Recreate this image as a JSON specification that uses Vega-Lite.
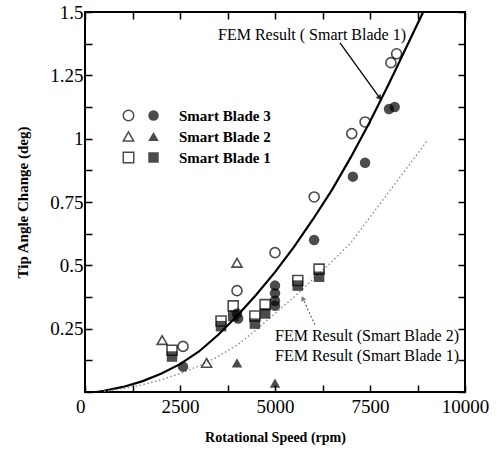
{
  "$schema": "https://vega.github.io/schema/vega-lite/v6.json",
  "width": 380,
  "height": 380,
  "autosize": {"type": "none"},
  "padding": {"left": 85, "top": 12, "right": 32, "bottom": 62},
  "background": "white",
  "config": {
    "view": {"stroke": "black", "strokeWidth": 2},
    "axis": {
      "labelFont": "Liberation Serif",
      "labelFontSize": 19,
      "labelColor": "black",
      "titleFont": "Liberation Serif",
      "titleColor": "black",
      "titleFontWeight": "bold",
      "titleFontSize": 15,
      "grid": false,
      "labelFlush": false,
      "labelOverlap": false
    }
  },
  "datasets": {
    "fem1": [
      {"rpm": 300, "deg": 0},
      {"rpm": 500, "deg": 0.005},
      {"rpm": 1000, "deg": 0.02},
      {"rpm": 1500, "deg": 0.042},
      {"rpm": 2000, "deg": 0.072},
      {"rpm": 2500, "deg": 0.11},
      {"rpm": 3000, "deg": 0.16},
      {"rpm": 3500, "deg": 0.225},
      {"rpm": 4000, "deg": 0.3},
      {"rpm": 4500, "deg": 0.383},
      {"rpm": 5000, "deg": 0.473},
      {"rpm": 5500, "deg": 0.573},
      {"rpm": 6000, "deg": 0.682},
      {"rpm": 6500, "deg": 0.798},
      {"rpm": 7000, "deg": 0.928},
      {"rpm": 7500, "deg": 1.068},
      {"rpm": 8000, "deg": 1.218},
      {"rpm": 8500, "deg": 1.375},
      {"rpm": 8900, "deg": 1.5}
    ],
    "fem2": [
      {"rpm": 500, "deg": 0.003},
      {"rpm": 1000, "deg": 0.013},
      {"rpm": 1500, "deg": 0.028},
      {"rpm": 2000, "deg": 0.048},
      {"rpm": 2500, "deg": 0.073},
      {"rpm": 3000, "deg": 0.103},
      {"rpm": 3500, "deg": 0.14},
      {"rpm": 4000, "deg": 0.185},
      {"rpm": 4500, "deg": 0.245},
      {"rpm": 5000, "deg": 0.31},
      {"rpm": 5500, "deg": 0.375},
      {"rpm": 6000, "deg": 0.445},
      {"rpm": 6500, "deg": 0.515},
      {"rpm": 7000, "deg": 0.59},
      {"rpm": 7500, "deg": 0.69},
      {"rpm": 8000, "deg": 0.79},
      {"rpm": 8500, "deg": 0.89},
      {"rpm": 9000, "deg": 0.99}
    ],
    "open": [
      {"rpm": 2580, "deg": 0.18, "series": "Smart Blade 3"},
      {"rpm": 4000, "deg": 0.40, "series": "Smart Blade 3"},
      {"rpm": 5000, "deg": 0.55, "series": "Smart Blade 3"},
      {"rpm": 6030, "deg": 0.77, "series": "Smart Blade 3"},
      {"rpm": 7020, "deg": 1.02, "series": "Smart Blade 3"},
      {"rpm": 7370, "deg": 1.066, "series": "Smart Blade 3"},
      {"rpm": 8050, "deg": 1.30, "series": "Smart Blade 3"},
      {"rpm": 8200, "deg": 1.335, "series": "Smart Blade 3"},
      {"rpm": 2030, "deg": 0.205, "series": "Smart Blade 2"},
      {"rpm": 3200, "deg": 0.115, "series": "Smart Blade 2"},
      {"rpm": 4000, "deg": 0.51, "series": "Smart Blade 2"},
      {"rpm": 2290, "deg": 0.165, "series": "Smart Blade 1"},
      {"rpm": 3580, "deg": 0.28, "series": "Smart Blade 1"},
      {"rpm": 3900, "deg": 0.34, "series": "Smart Blade 1"},
      {"rpm": 4470, "deg": 0.30, "series": "Smart Blade 1"},
      {"rpm": 4740, "deg": 0.345, "series": "Smart Blade 1"},
      {"rpm": 5600, "deg": 0.44, "series": "Smart Blade 1"},
      {"rpm": 6160, "deg": 0.485, "series": "Smart Blade 1"}
    ],
    "filled": [
      {"rpm": 2580, "deg": 0.10, "blade": "Smart Blade 3"},
      {"rpm": 4030, "deg": 0.29, "blade": "Smart Blade 3"},
      {"rpm": 4000, "deg": 0.31, "blade": "Smart Blade 3"},
      {"rpm": 5000, "deg": 0.42, "blade": "Smart Blade 3"},
      {"rpm": 5000, "deg": 0.39, "blade": "Smart Blade 3"},
      {"rpm": 5000, "deg": 0.36, "blade": "Smart Blade 3"},
      {"rpm": 5000, "deg": 0.34, "blade": "Smart Blade 3"},
      {"rpm": 6030, "deg": 0.60, "blade": "Smart Blade 3"},
      {"rpm": 7050, "deg": 0.85, "blade": "Smart Blade 3"},
      {"rpm": 7370, "deg": 0.905, "blade": "Smart Blade 3"},
      {"rpm": 8000, "deg": 1.117, "blade": "Smart Blade 3"},
      {"rpm": 8150, "deg": 1.125, "blade": "Smart Blade 3"},
      {"rpm": 4000, "deg": 0.115, "blade": "Smart Blade 2"},
      {"rpm": 5000, "deg": 0.035, "blade": "Smart Blade 2"},
      {"rpm": 2290, "deg": 0.14, "blade": "Smart Blade 1"},
      {"rpm": 3580, "deg": 0.26, "blade": "Smart Blade 1"},
      {"rpm": 3900, "deg": 0.30, "blade": "Smart Blade 1"},
      {"rpm": 4470, "deg": 0.27, "blade": "Smart Blade 1"},
      {"rpm": 4740, "deg": 0.31, "blade": "Smart Blade 1"},
      {"rpm": 5600, "deg": 0.42, "blade": "Smart Blade 1"},
      {"rpm": 6160, "deg": 0.455, "blade": "Smart Blade 1"}
    ],
    "notes": [
      {"rpm": 3500, "deg": 1.409, "label": "FEM Result ( Smart Blade 1)"},
      {"rpm": 5000, "deg": 0.221, "label": "FEM Result (Smart Blade 2)"},
      {"rpm": 5000, "deg": 0.142, "label": "FEM Result (Smart Blade 1)"}
    ],
    "arrows": [
      {"rpm": 6710, "deg": 1.378, "rpm2": 7760, "deg2": 1.16, "which": "top"},
      {"rpm": 6050, "deg": 0.265, "rpm2": 5730, "deg2": 0.37, "which": "low"}
    ]
  },
  "layer": [
    {
      "data": {"name": "fem1"},
      "mark": {"type": "line", "color": "black", "strokeWidth": 2.2},
      "encoding": {
        "x": {
          "field": "rpm", "type": "quantitative",
          "scale": {"domain": [0, 10000], "nice": false},
          "axis": {
            "orient": "bottom",
            "values": [0, 1250, 2500, 3750, 5000, 6250, 7500, 8750, 10000],
            "labelExpr": "datum.value % 2500 == 0 ? '' + datum.value : ''",
            "labelAlign": {"condition": {"test": "datum.value == 0", "value": "right"}, "value": "center"},
            "tickColor": "black", "tickSize": 7, "tickWidth": 1.5, "offset": -7, "domain": false,
            "labelPadding": 5,
            "title": "Rotational Speed (rpm)",
            "titleFontSize": 14,
            "titlePadding": 14
          }
        },
        "y": {
          "field": "deg", "type": "quantitative",
          "scale": {"domain": [0, 1.5], "nice": false},
          "axis": {
            "orient": "left",
            "values": [0, 0.125, 0.25, 0.375, 0.5, 0.625, 0.75, 0.875, 1, 1.125, 1.25, 1.375, 1.5],
            "labelExpr": "datum.value == 0 || (datum.value * 4) % 1 != 0 ? '' : '' + datum.value",
            "tickColor": "black", "tickSize": 7, "tickWidth": 1.5, "offset": -7, "domain": false,
            "labelPadding": 2,
            "title": "Tip Angle Change (deg)",
            "titleFontSize": 15,
            "titlePadding": 19
          }
        }
      }
    },
    {
      "data": {"name": "fem2"},
      "mark": {"type": "line", "color": "#8a8a8a", "strokeWidth": 1.4, "strokeDash": [1.5, 2.5]},
      "encoding": {
        "x": {
          "field": "rpm", "type": "quantitative",
          "scale": {"domain": [0, 10000], "nice": false},
          "axis": {
            "orient": "top",
            "values": [0, 1250, 2500, 3750, 5000, 6250, 7500, 8750, 10000],
            "labels": false, "title": null,
            "tickColor": "black", "tickSize": 7, "tickWidth": 1.5, "offset": -7, "domain": false
          }
        },
        "y": {
          "field": "deg", "type": "quantitative",
          "scale": {"domain": [0, 1.5], "nice": false},
          "axis": {
            "orient": "right",
            "values": [0, 0.125, 0.25, 0.375, 0.5, 0.625, 0.75, 0.875, 1, 1.125, 1.25, 1.375, 1.5],
            "labels": false, "title": null,
            "tickColor": "black", "tickSize": 7, "tickWidth": 1.5, "offset": -7, "domain": false
          }
        }
      }
    },
    {
      "data": {"name": "filled"},
      "mark": {"type": "point", "filled": true, "color": "black", "size": 110},
      "encoding": {
        "x": {"field": "rpm", "type": "quantitative", "axis": null},
        "y": {"field": "deg", "type": "quantitative", "axis": null},
        "shape": {
          "field": "blade", "type": "nominal",
          "scale": {"domain": ["Smart Blade 3", "Smart Blade 2", "Smart Blade 1"], "range": ["circle", "triangle-up", "square"]},
          "legend": {
            "orient": "none", "legendX": 61, "legendY": 96, "title": null,
            "labelFont": "Liberation Serif", "labelFontSize": 15, "labelFontWeight": "bold", "labelColor": "black",
            "labelOffset": 18, "symbolSize": 110, "rowPadding": 4
          }
        }
      }
    },
    {
      "data": {"name": "open"},
      "mark": {"type": "point", "filled": false, "color": "black", "strokeWidth": 1.6, "size": 100},
      "encoding": {
        "x": {"field": "rpm", "type": "quantitative", "axis": null},
        "y": {"field": "deg", "type": "quantitative", "axis": null},
        "shape": {
          "field": "series", "type": "nominal",
          "scale": {"domain": ["Smart Blade 3", "Smart Blade 2", "Smart Blade 1"], "range": ["circle", "triangle-up", "square"]},
          "legend": {
            "orient": "none", "legendX": 36, "legendY": 96, "title": null,
            "labelExpr": "' '", "labelFontSize": 15, "symbolSize": 110, "rowPadding": 4
          }
        }
      }
    },
    {
      "data": {"name": "arrows"},
      "transform": [{"filter": "datum.which == 'top'"}],
      "mark": {"type": "rule", "color": "black", "strokeWidth": 1.3},
      "encoding": {
        "x": {"field": "rpm", "type": "quantitative", "axis": null},
        "y": {"field": "deg", "type": "quantitative", "axis": null},
        "x2": {"field": "rpm2"},
        "y2": {"field": "deg2"}
      }
    },
    {
      "data": {"name": "arrows"},
      "transform": [{"filter": "datum.which == 'low'"}],
      "mark": {"type": "rule", "color": "#666", "strokeWidth": 1.2, "strokeDash": [2, 2]},
      "encoding": {
        "x": {"field": "rpm", "type": "quantitative", "axis": null},
        "y": {"field": "deg", "type": "quantitative", "axis": null},
        "x2": {"field": "rpm2"},
        "y2": {"field": "deg2"}
      }
    },
    {
      "data": {"name": "arrows"},
      "transform": [{"filter": "datum.which == 'top'"}],
      "mark": {"type": "point", "shape": "triangle-up", "filled": true, "color": "black", "size": 45, "angle": 144},
      "encoding": {
        "x": {"field": "rpm2", "type": "quantitative", "axis": null},
        "y": {"field": "deg2", "type": "quantitative", "axis": null}
      }
    },
    {
      "data": {"name": "arrows"},
      "transform": [{"filter": "datum.which == 'low'"}],
      "mark": {"type": "point", "shape": "triangle-up", "filled": true, "color": "#555", "size": 35, "angle": 336},
      "encoding": {
        "x": {"field": "rpm2", "type": "quantitative", "axis": null},
        "y": {"field": "deg2", "type": "quantitative", "axis": null}
      }
    },
    {
      "data": {"name": "notes"},
      "mark": {"type": "text", "align": "left", "baseline": "middle", "font": "Liberation Serif", "fontSize": 16, "color": "black"},
      "encoding": {
        "x": {"field": "rpm", "type": "quantitative", "axis": null},
        "y": {"field": "deg", "type": "quantitative", "axis": null},
        "text": {"field": "label"}
      }
    }
  ],
  "resolve": {
    "axis": {"x": "independent", "y": "independent"},
    "scale": {"shape": "independent"},
    "legend": {"shape": "independent"}
  }
}
